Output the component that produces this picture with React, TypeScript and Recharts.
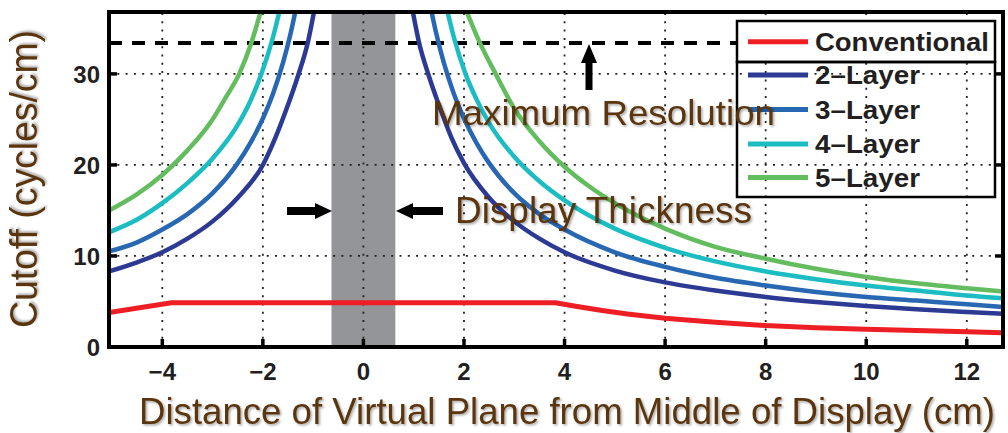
import {
  LineChart,
  Line,
  XAxis,
  YAxis,
  ReferenceArea,
  ReferenceLine,
} from "recharts";

// axis ranges and ticks
const X_MIN = -5.06;
const X_MAX = 12.72;
const Y_MAX = 36.8;
const X_TICKS = [-4, -2, 0, 2, 4, 6, 8, 10, 12];
const Y_TICKS = [0, 10, 20, 30];
const MAX_RESOLUTION = 33.4;
const DISPLAY_HALF = 0.635;

// Conventional
const convX = [X_MIN, -3.82, 3.82, 4.25, 4.75, 5.25, 6, 7, 8, 9, 10, 11, 12, X_MAX];
const convY = [3.8, 4.85, 4.85, 4.45, 4.0, 3.62, 3.15, 2.72, 2.35, 2.12, 1.94, 1.8, 1.68, 1.57];

// 2-Layer
const l2LeftX = [X_MIN, -4.5, -4, -3.5, -3, -2.5, -2, -1.75, -1.5, -1.3, -1.1, -0.95];
const l2LeftY = [8.3, 9.3, 10.4, 11.9, 13.8, 16.4, 20.0, 23.0, 26.6, 29.8, 33.6, 37.8];
const l2RightX = [0.95, 1.1, 1.3, 1.5, 1.75, 2, 2.5, 3, 3.5, 4, 5, 6, 7, 8, 9, 10, 11, 12, X_MAX];
const l2RightY = [37.8, 33.6, 29.8, 26.6, 23.0, 20.2, 16.4, 13.8, 11.9, 10.4, 8.4, 7.1, 6.2, 5.5, 4.95, 4.5, 4.15, 3.85, 3.65];

// 3-Layer
const l3LeftX = [X_MIN, -4.5, -4, -3.5, -3, -2.5, -2.25, -2, -1.8, -1.6, -1.45, -1.3];
const l3LeftY = [10.5, 11.5, 12.9, 14.6, 16.9, 20.2, 22.4, 25.1, 27.8, 31.2, 34.4, 38.3];
const l3RightX = [1.3, 1.45, 1.6, 1.8, 2, 2.25, 2.5, 3, 3.5, 4, 5, 6, 7, 8, 9, 10, 11, 12, X_MAX];
const l3RightY = [38.3, 34.4, 31.2, 27.8, 25.1, 22.4, 20.2, 16.9, 14.6, 12.9, 10.4, 8.8, 7.6, 6.75, 6.05, 5.5, 5.1, 4.7, 4.4];

// 4-Layer
const l4LeftX = [X_MIN, -4.5, -4, -3.5, -3, -2.5, -2.25, -2.03, -1.8, -1.63];
const l4LeftY = [12.6, 14.0, 15.8, 18.0, 20.7, 24.4, 27.0, 30, 34.0, 37.8];
const l4RightX = [1.63, 1.8, 2.03, 2.25, 2.5, 3, 3.5, 4, 5, 6, 7, 8, 9, 10, 11, 12, X_MAX];
const l4RightY = [37.8, 34.0, 30, 27.2, 24.6, 20.9, 18.2, 16.1, 13.0, 10.9, 9.4, 8.3, 7.45, 6.75, 6.2, 5.65, 5.35];

// 5-Layer
const l5LeftX = [X_MIN, -4.5, -4, -3.5, -3, -2.75, -2.47, -2.23, -2.02];
const l5LeftY = [15.0, 16.8, 18.9, 21.6, 25.0, 27.3, 30, 33.4, 37.3];
const l5RightX = [2.0, 2.3, 2.63, 3, 3.5, 4, 4.5, 5, 6, 7, 8, 9, 10, 11, 12, X_MAX];
const l5RightY = [37.6, 33.6, 30, 26.2, 22.6, 19.8, 17.6, 15.8, 13.0, 11.0, 9.7, 8.6, 7.7, 7.0, 6.45, 6.1];

const toPoints = (xs: number[], ys: number[]) => xs.map((x, i) => ({ x, y: ys[i] }));
// two branches with a gap in the middle
const branches = (lx: number[], ly: number[], rx: number[], ry: number[]) => [
  ...toPoints(lx, ly),
  { x: 0, y: null },
  ...toPoints(rx, ry),
];

const SERIES = [
  { name: "Conventional", color: "#ed1e24", width: 5, type: "linear", data: toPoints(convX, convY) },
  { name: "2\u2013Layer", color: "#2d3a93", width: 4.5, type: "monotone", data: branches(l2LeftX, l2LeftY, l2RightX, l2RightY) },
  { name: "3\u2013Layer", color: "#2868b3", width: 4.5, type: "monotone", data: branches(l3LeftX, l3LeftY, l3RightX, l3RightY) },
  { name: "4\u2013Layer", color: "#1cbdc2", width: 4.5, type: "monotone", data: branches(l4LeftX, l4LeftY, l4RightX, l4RightY) },
  { name: "5\u2013Layer", color: "#63bd5f", width: 4.5, type: "monotone", data: branches(l5LeftX, l5LeftY, l5RightX, l5RightY) },
];

const INK = "#231f20";
const BROWN = "#5a3511";
const FONT = "'Liberation Sans', Arial, Helvetica, sans-serif";
const GRID = { stroke: "#222", strokeWidth: 1.8, strokeDasharray: "2 6.3" };

const fmt = (v: number) => (v < 0 ? "\u2212" + Math.abs(v) : String(v));

const BottomTick = (p: any) => (
  <g>
    <line x1={p.x} y1={p.y} x2={p.x} y2={p.y - 8} stroke="#000" strokeWidth={3.5} />
    <text x={p.x} y={p.y + 33} textAnchor="middle" fontSize={24} fontWeight="bold" fill={INK} fontFamily={FONT}>
      {fmt(p.payload.value)}
    </text>
  </g>
);
const TopTick = (p: any) => <line x1={p.x} y1={p.y} x2={p.x} y2={p.y + 8} stroke="#000" strokeWidth={3.5} />;
const LeftTick = (p: any) => (
  <g>
    <line x1={p.x} y1={p.y} x2={p.x + 8} y2={p.y} stroke="#000" strokeWidth={3.5} />
    <text x={p.x - 9} y={p.y + 9} textAnchor="end" fontSize={24} fontWeight="bold" fill={INK} fontFamily={FONT}>
      {fmt(p.payload.value)}
    </text>
  </g>
);
const RightTick = (p: any) => <line x1={p.x} y1={p.y} x2={p.x - 8} y2={p.y} stroke="#000" strokeWidth={3.5} />;

const axisLine = { stroke: "#000", strokeWidth: 4, strokeLinecap: "square" as const };

export default function App() {
  const legendRows = [41.7, 75, 109.5, 144, 177.5];
  return (
    <div style={{ position: "absolute", left: 0, top: 0, width: 1008, height: 433, background: "#fff", fontFamily: FONT }}>
      <LineChart width={1008} height={433} margin={{ top: 11, right: 4, bottom: 0, left: 0 }}>
        <XAxis
          type="number"
          dataKey="x"
          domain={[X_MIN, X_MAX]}
          ticks={X_TICKS}
          interval={0}
          height={86}
          tickSize={0}
          tickMargin={0}
          tickLine={false}
          axisLine={axisLine}
          tick={BottomTick}
          allowDataOverflow
        />
        <XAxis
          xAxisId="top"
          orientation="top"
          type="number"
          domain={[X_MIN, X_MAX]}
          ticks={X_TICKS}
          interval={0}
          height={1}
          tickSize={0}
          tickMargin={0}
          tickLine={false}
          axisLine={axisLine}
          tick={TopTick}
          allowDataOverflow
        />
        <YAxis
          type="number"
          domain={[0, Y_MAX]}
          ticks={Y_TICKS}
          interval={0}
          width={109}
          tickSize={0}
          tickMargin={0}
          tickLine={false}
          axisLine={axisLine}
          tick={LeftTick}
          allowDataOverflow
        />
        <YAxis
          yAxisId="right"
          orientation="right"
          type="number"
          domain={[0, Y_MAX]}
          ticks={Y_TICKS}
          interval={0}
          width={1}
          tickSize={0}
          tickMargin={0}
          tickLine={false}
          axisLine={axisLine}
          tick={RightTick}
          allowDataOverflow
        />
        {/* dotted grid */}
        {X_TICKS.map((t) => (
          <ReferenceLine key={"gx" + t} x={t} {...GRID} />
        ))}
        {Y_TICKS.filter((t) => t > 0).map((t) => (
          <ReferenceLine key={"gy" + t} y={t} {...GRID} />
        ))}
        <ReferenceArea x1={-DISPLAY_HALF} x2={DISPLAY_HALF} y1={0} y2={Y_MAX} fill="#8a8c8f" fillOpacity={0.92} stroke="none" />
        <ReferenceLine y={MAX_RESOLUTION} stroke="#000" strokeWidth={4} strokeDasharray="13 10" />
        {SERIES.map((s) => (
          <Line
            key={s.name}
            data={s.data}
            dataKey="y"
            name={s.name}
            type={s.type as any}
            stroke={s.color}
            strokeWidth={s.width}
            dot={false}
            activeDot={false}
            connectNulls={false}
            isAnimationActive={false}
          />
        ))}
        {/* plot frame */}
        <ReferenceArea x1={X_MIN} x2={X_MAX} y1={0} y2={Y_MAX} fill="none" stroke="#000" strokeWidth={4} />
      </LineChart>

      <svg width={1008} height={433} style={{ position: "absolute", left: 0, top: 0, pointerEvents: "none" }}>
        <defs>
          <filter id="shadow" x="-5%" y="-30%" width="110%" height="160%">
            <feDropShadow dx="1.5" dy="1.5" stdDeviation="1.2" floodColor="#000" floodOpacity="0.35" />
          </filter>
        </defs>

        {/* legend */}
        <rect x={737} y={21} width={258} height={41} fill="#fff" stroke="#000" strokeWidth={2.5} />
        <rect x={737} y={62} width={258} height={135} fill="none" stroke="#000" strokeWidth={2.5} />
        {SERIES.map((s, i) => (
          <g key={s.name}>
            <line x1={748} x2={808} y1={legendRows[i]} y2={legendRows[i]} stroke={s.color} strokeWidth={5} />
            <text
              x={815}
              y={legendRows[i] + 9}
              fontSize={25}
              fontWeight="bold"
              fill={INK}
              fontFamily={FONT}
              textLength={i === 0 ? 174 : 105}
              lengthAdjust="spacingAndGlyphs"
            >
              {s.name}
            </text>
          </g>
        ))}

        {/* annotations */}
        <polygon points="585.5,90 592.5,90 592.5,63 597,63 589,44 581,63 585.5,63" fill="#000" />
        <polygon points="287,207 315,207 315,203 332,211 315,219 315,215 287,215" fill="#000" />
        <polygon points="443,207 413,207 413,203 396,211 413,219 413,215 443,215" fill="#000" />
        <text x={432} y={125} fontSize={35} fill={BROWN} fontFamily={FONT} textLength={343} lengthAdjust="spacingAndGlyphs" filter="url(#shadow)">
          Maximum Resolution
        </text>
        <text x={455} y={223} fontSize={37} fill={BROWN} fontFamily={FONT} textLength={297} lengthAdjust="spacingAndGlyphs" filter="url(#shadow)">
          Display Thickness
        </text>

        {/* axis titles */}
        <text
          transform="translate(37,179) rotate(-90)"
          textAnchor="middle"
          fontSize={38}
          fill={BROWN}
          fontFamily={FONT}
          textLength={298}
          lengthAdjust="spacingAndGlyphs"
          filter="url(#shadow)"
        >
          Cutoff (cycles/cm)
        </text>
        <text
          x={567}
          y={424}
          textAnchor="middle"
          fontSize={36}
          fill={BROWN}
          fontFamily={FONT}
          textLength={856}
          lengthAdjust="spacingAndGlyphs"
          filter="url(#shadow)"
        >
          Distance of Virtual Plane from Middle of Display (cm)
        </text>
      </svg>
    </div>
  );
}
